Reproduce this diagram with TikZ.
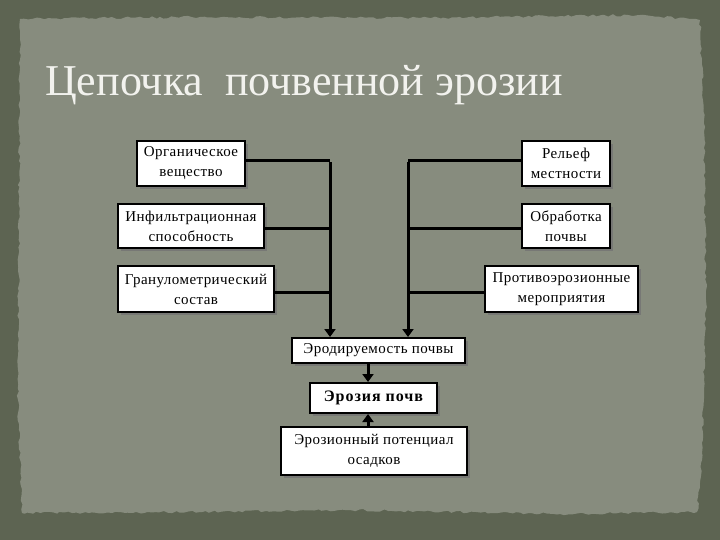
\documentclass[tikz,border=0pt]{standalone}
\usepackage{fontspec}
\setmainfont{Liberation Serif}
\newfontfamily\boxfont[LetterSpace=3]{Liberation Serif}
\newfontfamily\boldboxfont[LetterSpace=6]{Liberation Serif}
\usetikzlibrary{shadows,arrows.meta,decorations.pathmorphing}
\definecolor{outerbg}{HTML}{5D6452}
\definecolor{paper}{HTML}{878C7E}
\definecolor{titlecol}{HTML}{F2F2EE}
\tikzset{
  box/.style={draw=black, line width=2pt, fill=white, align=center,
    font=\boxfont\fontsize{15}{20}\selectfont, inner sep=0pt,
    drop shadow={shadow xshift=3pt, shadow yshift=-3pt, fill=black!55, opacity=0.8}},
  link/.style={draw=black, line width=3pt},
  arr/.style={link, -{Triangle[length=8pt,width=11pt]}}
}
\begin{document}
\begin{tikzpicture}[x=1pt,y=-1pt]
\pgfmathsetseed{7}
\useasboundingbox (0,0) rectangle (720,540);
\fill[outerbg] (0,0) rectangle (720,540);
\fill[paper, decorate, decoration={random steps, segment length=4pt, amplitude=1.2pt}]
  (20,19) -- (200,17) -- (420,18) -- (640,15) -- (700,20) -- (704,120) -- (706,300) -- (702,460) -- (697,512)
  -- (560,514) -- (350,510) -- (200,512) -- (22,513) -- (18,400) -- (19,200) -- cycle;
\node[anchor=base west, text=titlecol, font=\fontsize{44}{48}\selectfont, inner sep=0pt] (title) at (45,96) {Цепочка\ \ почвенной эрозии};

\node[box, minimum width=108pt, minimum height=45pt] (org) at (191,163.5) {Органическое\\вещество};
\node[box, minimum width=146pt, minimum height=44pt] (inf) at (191,226) {Инфильтрационная\\способность};
\node[box, minimum width=156pt, minimum height=46pt] (gran) at (196,289) {Гранулометрический\\состав};
\node[box, minimum width=88pt, minimum height=45pt] (rel) at (566,163.5) {Рельеф\\местности};
\node[box, minimum width=88pt, minimum height=44pt] (obr) at (566,226) {Обработка\\почвы};
\node[box, minimum width=153pt, minimum height=46pt] (prot) at (561.5,289) {Противоэрозионные\\мероприятия};
\node[box, minimum width=173pt, minimum height=25pt] (erod) at (378.5,350.5) {Эродируемость почвы};
\node[box, minimum width=127pt, minimum height=30pt, font=\boldboxfont\fontsize{16}{20}\selectfont\bfseries] (eroz) at (373.5,398) {Эрозия почв};
\node[box, minimum width=186pt, minimum height=48pt] (pot) at (374,451) {Эрозионный потенциал\\осадков};

\coordinate (L) at (330,161);
\coordinate (R) at (408,161);
\draw[link] (org.east) ++(0,-2.5) coordinate (o1) (o1) -- (o1 -| L);
\draw[link] (inf.east) ++(0,2.5) coordinate (i1) (i1) -- (i1 -| L);
\draw[link] (gran.east) ++(0,3) coordinate (g1) (g1) -- (g1 -| L);
\draw[link] (rel.west) ++(0,-2.5) coordinate (r1) (r1) -- (r1 -| R);
\draw[link] (obr.west) ++(0,2.5) coordinate (b1) (b1) -- (b1 -| R);
\draw[link] (prot.west) ++(0,3) coordinate (p1) (p1) -- (p1 -| R);
\draw[arr] ([yshift=-1.5pt]L) -- (L |- erod.north);
\draw[arr] ([yshift=-1.5pt]R) -- (R |- erod.north);
\draw[arr] (erod.south -| eroz.north) ++(-5.5,0) coordinate (a1) (a1) -- (a1 |- eroz.north);
\draw[arr] (pot.north -| eroz.south) ++(-5.5,0) coordinate (a2) (a2) -- (a2 |- eroz.south);
\end{tikzpicture}
\end{document}
